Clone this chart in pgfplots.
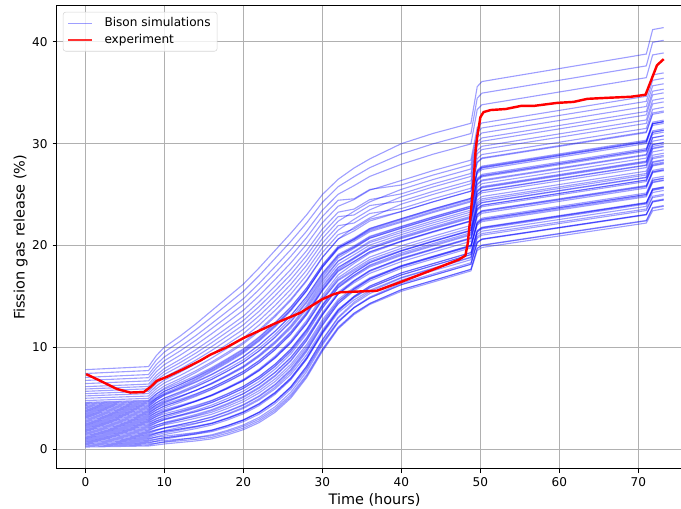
\documentclass[border=0pt]{standalone}
\usepackage{fontspec}
\setmainfont{DejaVu Sans}
\usepackage{pgfplots}
\usepackage{pgfplotstable}
\pgfplotsset{compat=1.18}
\definecolor{gridgray}{HTML}{B0B0B0}
\definecolor{legendgray}{HTML}{CCCCCC}
\tikzset{sim/.style={color=blue, opacity=0.38, line width=0.8pt}}

% rows: time (hours), then one column per Bison simulation run (61 runs)
\pgfplotstableread[header=false]{
0 0.20 0.29 0.38 0.47 0.56 0.66 0.75 0.84 0.93 1.02 1.11 1.20 1.29 1.39 1.48 1.57 1.66 1.75 1.84 1.93 2.02 2.12 2.21 2.30 2.39 2.48 2.57 2.66 2.75 2.84 2.94 3.03 3.12 3.21 3.30 3.39 3.48 3.57 3.67 3.76 3.85 3.94 4.03 4.12 4.21 4.30 4.40 4.49 4.58 4.76 4.99 5.22 5.44 5.67 5.90 6.13 6.43 6.74 7.04 7.42 7.80
8 0.30 0.39 0.49 0.58 0.67 0.77 0.86 0.96 1.05 1.14 1.24 1.33 1.42 1.52 1.61 1.70 1.80 1.89 1.98 2.08 2.17 2.27 2.36 2.45 2.55 2.64 2.73 2.83 2.92 3.01 3.11 3.20 3.30 3.39 3.48 3.58 3.67 3.76 3.86 3.95 4.04 4.14 4.23 4.32 4.42 4.51 4.61 4.70 4.79 4.98 5.21 5.45 5.68 5.92 6.15 6.38 6.70 7.01 7.32 7.71 8.10
9 0.40 0.56 0.58 0.79 0.76 0.95 0.99 1.20 1.17 1.38 1.54 1.54 1.61 1.81 1.88 1.90 2.16 2.17 2.33 2.36 2.57 2.61 2.77 2.76 2.95 3.00 3.23 3.19 3.37 3.43 3.63 3.59 3.82 3.86 4.06 4.05 4.20 4.36 4.34 4.55 4.58 4.81 4.83 4.98 4.99 5.07 5.23 5.42 5.42 5.68 5.94 6.21 6.47 6.74 7.00 7.26 7.62 7.97 8.32 8.76 9.20
10 0.50 0.71 0.67 0.98 0.84 1.11 1.10 1.42 1.27 1.59 1.80 1.71 1.75 2.06 2.10 2.05 2.46 2.38 2.61 2.57 2.90 2.87 3.11 2.98 3.28 3.27 3.62 3.46 3.71 3.75 4.04 3.87 4.23 4.22 4.52 4.39 4.60 4.82 4.69 5.01 4.98 5.33 5.27 5.48 5.40 5.67 5.68 5.98 5.87 6.20 6.49 6.77 7.06 7.34 7.63 7.91 8.29 8.67 9.05 9.53 10.00
12 0.65 0.93 0.81 1.24 0.97 1.34 1.28 1.71 1.44 1.87 2.14 1.97 1.97 2.40 2.41 2.29 2.87 2.69 3.00 2.88 3.34 3.25 3.56 3.32 3.72 3.67 4.15 3.86 4.19 4.20 4.59 4.30 4.78 4.73 5.12 4.89 5.16 5.44 5.21 5.63 5.55 6.03 5.89 6.16 5.99 6.35 6.33 6.72 6.52 6.92 7.23 7.55 7.86 8.17 8.49 8.80 9.22 9.64 10.06 10.58 11.10
14 0.80 1.14 0.96 1.49 1.11 1.57 1.47 2.01 1.62 2.16 2.50 2.24 2.22 2.75 2.73 2.55 3.29 3.03 3.40 3.22 3.80 3.66 4.04 3.69 4.19 4.09 4.71 4.29 4.70 4.68 5.18 4.76 5.38 5.27 5.77 5.43 5.77 6.11 5.76 6.30 6.16 6.78 6.56 6.89 6.63 7.09 7.03 7.53 7.22 7.70 8.05 8.39 8.74 9.08 9.43 9.77 10.23 10.69 11.15 11.73 12.30
16 1.00 1.40 1.15 1.80 1.30 1.86 1.71 2.36 1.86 2.51 2.91 2.56 2.51 3.17 3.12 2.87 3.77 3.42 3.87 3.62 4.32 4.13 4.58 4.13 4.73 4.58 5.33 4.78 5.28 5.23 5.84 5.29 6.04 5.89 6.49 6.04 6.44 6.84 6.40 7.05 6.85 7.60 7.30 7.70 7.35 7.90 7.81 8.41 8.01 8.56 8.94 9.32 9.69 10.07 10.45 10.83 11.33 11.84 12.34 12.97 13.60
18 1.40 1.84 1.56 2.27 1.72 2.32 2.15 2.86 2.31 3.02 3.46 3.07 3.01 3.73 3.67 3.39 4.38 3.99 4.48 4.20 4.97 4.75 5.24 4.74 5.40 5.23 6.05 5.44 5.99 5.93 6.59 5.98 6.80 6.64 7.29 6.80 7.23 7.67 7.17 7.88 7.66 8.48 8.15 8.59 8.20 8.80 8.69 9.34 8.90 9.50 9.91 10.31 10.72 11.12 11.53 11.93 12.47 13.01 13.55 14.23 14.90
20 1.90 2.37 2.06 2.83 2.23 2.88 2.69 3.46 2.85 3.62 4.10 3.67 3.60 4.37 4.30 3.99 5.07 4.64 5.17 4.86 5.69 5.44 5.98 5.43 6.14 5.95 6.84 6.17 6.76 6.70 7.41 6.74 7.63 7.44 8.15 7.61 8.08 8.55 8.00 8.77 8.52 9.42 9.05 9.52 9.09 9.74 9.61 10.33 9.84 10.48 10.91 11.34 11.77 12.20 12.63 13.05 13.63 14.20 14.77 15.49 16.20
22 2.60 3.11 2.77 3.60 2.94 3.64 3.43 4.27 3.60 4.44 4.94 4.48 4.40 5.23 5.15 4.82 5.97 5.51 6.08 5.74 6.64 6.37 6.94 6.34 7.11 6.90 7.86 7.13 7.77 7.69 8.46 7.73 8.70 8.49 9.26 8.66 9.17 9.67 9.08 9.91 9.64 10.60 10.20 10.70 10.24 10.94 10.80 11.56 11.03 11.72 12.18 12.63 13.09 13.54 14.00 14.46 15.06 15.67 16.28 17.04 17.80
24 3.60 4.14 3.77 4.66 3.94 4.69 4.46 5.36 4.64 5.53 6.07 5.56 5.47 6.36 6.27 5.90 7.14 6.63 7.24 6.88 7.84 7.54 8.15 7.50 8.32 8.09 9.12 8.33 9.01 8.92 9.74 8.95 9.99 9.76 10.58 9.93 10.47 11.01 10.36 11.25 10.95 11.98 11.54 12.08 11.58 12.33 12.17 12.99 12.41 13.14 13.62 14.09 14.57 15.05 15.53 16.00 16.64 17.27 17.91 18.71 19.50
26 5.00 5.57 5.16 6.11 5.33 6.12 5.87 6.81 6.03 6.97 7.54 6.99 6.88 7.83 7.72 7.32 8.64 8.08 8.72 8.32 9.34 9.01 9.65 8.95 9.82 9.56 10.65 9.80 10.52 10.41 11.28 10.43 11.52 11.27 12.13 11.43 12.00 12.57 11.86 12.81 12.48 13.57 13.09 13.66 13.10 13.90 13.72 14.59 13.96 14.72 15.21 15.69 16.18 16.66 17.15 17.64 18.28 18.93 19.58 20.39 21.20
28 7.00 7.59 7.14 8.14 7.29 8.12 7.83 8.82 7.98 8.97 9.56 8.95 8.82 9.82 9.69 9.24 10.63 10.02 10.70 10.25 11.32 10.95 11.62 10.86 11.77 11.48 12.63 11.70 12.46 12.33 13.24 12.31 13.46 13.18 14.09 13.32 13.91 14.50 13.74 14.73 14.36 15.51 14.98 15.58 14.97 15.80 15.59 16.50 15.82 16.60 17.08 17.56 18.04 18.52 19.00 19.48 20.12 20.76 21.40 22.20 23.00
30 9.60 10.21 9.71 10.75 9.83 10.69 10.37 11.40 10.48 11.52 12.13 11.46 11.31 12.34 12.19 11.69 13.15 12.49 13.18 12.69 13.81 13.40 14.09 13.26 14.21 13.88 15.08 14.08 14.86 14.70 15.65 14.65 15.85 15.53 16.48 15.64 16.25 16.86 16.03 17.06 16.65 17.86 17.28 17.89 17.22 18.09 17.85 18.80 18.05 18.84 19.30 19.76 20.23 20.69 21.15 21.61 22.23 22.84 23.46 24.23 25.00
32 11.80 12.43 11.88 12.96 11.97 12.86 12.50 13.57 12.58 13.66 14.28 13.56 13.38 14.45 14.27 13.73 15.25 14.53 15.25 14.70 15.87 15.41 16.13 15.23 16.21 15.85 17.11 16.02 16.83 16.65 17.63 16.55 17.80 17.44 18.43 17.52 18.15 18.78 17.87 18.95 18.50 19.75 19.12 19.75 19.02 19.92 19.64 20.63 19.82 20.62 21.06 21.50 21.94 22.38 22.83 23.27 23.85 24.44 25.03 25.77 26.50
34 13.20 13.91 13.31 14.42 13.35 14.27 13.86 14.97 13.90 15.01 15.65 14.86 14.64 15.75 15.53 14.93 16.52 15.73 16.46 15.86 17.07 16.56 17.30 16.32 17.33 16.92 18.23 17.06 17.88 17.66 18.68 17.51 18.81 18.40 19.42 18.44 19.08 19.71 18.74 19.85 19.34 20.64 19.95 20.59 19.80 20.72 20.41 21.42 20.54 21.77 21.62 22.56 22.20 23.35 22.99 23.57 24.50 24.58 25.87 26.74 27.60
36 14.20 14.93 14.29 15.45 14.31 15.27 14.83 15.99 14.85 16.01 16.67 15.83 15.59 16.75 16.51 15.87 17.53 16.69 17.45 16.82 18.08 17.54 18.30 17.26 18.32 17.88 19.24 18.00 18.86 18.62 19.68 18.44 19.80 19.36 20.42 19.38 20.04 20.70 19.66 20.82 20.28 21.64 20.90 21.56 20.72 21.68 21.34 22.40 21.46 22.71 22.57 23.50 23.14 24.28 23.92 24.50 25.43 25.50 26.78 27.64 28.50
40 15.50 16.30 15.65 16.80 15.65 16.60 16.15 17.30 16.15 17.30 17.95 17.10 16.86 18.01 17.76 17.11 18.76 17.91 18.66 18.01 19.26 18.71 19.46 18.41 19.46 19.02 20.37 19.12 19.97 19.72 20.77 19.52 20.87 20.42 21.47 20.42 21.07 21.72 20.68 21.83 21.28 22.63 21.88 22.53 21.68 22.63 22.28 23.33 22.38 24.06 23.33 24.78 23.62 25.51 24.35 25.07 26.38 25.94 27.97 28.99 30.00
44 16.40 17.20 16.55 17.70 16.55 17.51 17.06 18.21 17.06 18.21 18.86 18.02 17.77 18.92 18.67 18.02 19.68 18.83 19.58 18.93 20.18 19.63 20.39 19.34 20.39 19.94 21.29 20.05 20.90 20.65 21.70 20.45 21.81 21.36 22.41 21.36 22.01 22.66 21.62 22.77 22.22 23.57 22.82 23.48 22.63 23.58 23.23 24.28 23.33 25.01 24.28 25.74 24.58 26.47 25.31 26.04 27.35 26.91 28.96 29.98 31.00
48.8 17.50 18.30 17.65 18.80 17.65 18.60 18.15 19.30 18.15 19.30 19.95 19.10 18.86 20.01 19.76 19.11 20.76 19.91 20.66 20.01 21.26 20.71 21.46 20.41 21.46 21.02 22.37 21.12 21.97 21.72 22.77 21.52 22.87 22.42 23.47 22.42 23.07 23.72 22.68 23.83 23.28 24.63 23.88 24.53 23.68 24.63 24.28 25.33 24.38 26.06 25.33 26.78 25.62 27.51 26.35 27.07 28.38 27.94 29.97 30.99 32.00
49.6 19.50 20.33 19.70 20.86 19.73 20.70 20.27 21.43 20.30 21.47 22.14 21.30 21.07 22.24 22.01 21.37 23.04 22.21 22.98 22.34 23.61 23.08 23.85 22.81 23.88 23.45 24.81 23.58 24.45 24.22 25.28 24.05 25.42 24.99 26.05 25.02 25.69 26.36 25.32 26.49 25.96 27.33 26.59 27.26 26.43 27.40 27.06 28.13 27.20 29.00 28.19 29.80 28.52 30.61 29.32 30.13 31.58 31.09 33.35 34.47 35.60
50.2 19.80 20.63 20.00 21.17 20.04 21.01 20.58 21.75 20.62 21.79 22.46 21.63 21.40 22.57 22.34 21.71 23.38 22.55 23.31 22.68 23.95 23.42 24.19 23.16 24.23 23.80 25.17 23.94 24.81 24.58 25.65 24.42 25.79 25.36 26.43 25.40 26.07 26.74 25.71 26.87 26.34 27.71 26.98 27.65 26.82 27.79 27.46 28.53 27.60 29.42 28.60 30.23 28.93 31.05 29.74 30.56 32.03 31.54 33.82 34.96 36.10
71.0 22.20 23.04 22.41 23.58 22.46 23.43 23.00 24.17 23.05 24.22 24.89 24.07 23.84 25.01 24.78 24.16 25.83 25.00 25.77 25.15 26.42 25.89 26.66 25.64 26.71 26.28 27.65 26.43 27.30 27.07 28.15 26.92 28.29 27.86 28.94 27.91 28.58 29.25 28.23 29.40 28.87 30.24 29.52 30.19 29.36 30.34 30.01 31.08 30.15 31.99 31.16 32.82 31.50 33.65 32.33 33.16 34.65 34.15 36.48 37.64 38.80
71.8 23.40 24.26 23.65 24.83 23.72 24.70 24.29 25.47 24.36 25.54 26.23 25.41 25.20 26.38 26.17 25.55 27.24 26.42 27.21 26.60 27.88 27.37 28.15 27.14 28.22 27.81 29.19 27.98 28.86 28.65 29.73 28.52 29.90 29.49 30.57 29.56 30.24 30.93 29.91 31.10 30.58 31.97 31.25 31.94 31.12 32.11 31.79 32.88 31.96 33.90 33.01 34.79 33.37 35.68 34.26 35.15 36.75 36.22 38.71 39.95 41.20
73.2 23.60 24.46 23.85 25.03 23.92 24.90 24.49 25.67 24.56 25.74 26.43 25.61 25.40 26.58 26.37 25.75 27.44 26.62 27.41 26.80 28.08 27.57 28.35 27.34 28.42 28.01 29.39 28.18 29.06 28.85 29.93 28.72 30.10 29.69 30.77 29.76 30.44 31.13 30.11 31.30 30.78 32.17 31.45 32.14 31.32 32.31 31.99 33.08 32.16 34.10 33.21 34.99 33.57 35.88 34.46 35.35 36.95 36.42 38.91 40.15 41.40
}\sims

\begin{document}
\begin{tikzpicture}
\begin{axis}[
  scale only axis,
  width=457.7pt, height=333.5pt,
  xmin=-3.63, xmax=76.83, ymin=-1.95, ymax=43.55,
  xtick={0,10,...,70}, ytick={0,10,...,40},
  tick pos=left, tick align=outside,
  major tick length=3pt,
  tick style={line width=0.7pt, black},
  axis line style={line width=0.7pt, black},
  grid=major, grid style={color=gridgray, line width=0.7pt},
  ticklabel style={font=\fontsize{8.7}{10.4}\selectfont},
  /pgf/number format/assume math mode=true,
  xlabel={Time (hours)}, ylabel={Fission gas release (\%)},
  label style={font=\fontsize{10.4}{12.5}\selectfont},
  xlabel style={at={(axis description cs:0.5,0)}, anchor=north, yshift=-17.6pt, inner sep=0pt},
  ylabel style={at={(axis description cs:-0.0452,0.5)}, anchor=south, inner sep=0pt},
  legend cell align=left,
  legend image code/.code={\draw[#1] (0pt,0pt) -- (17.5pt,0pt);},
  legend style={at={(rel axis cs:0,1)}, anchor=north west, xshift=4.4pt, yshift=-4.4pt,
    draw=legendgray, fill=white, fill opacity=0.8, draw opacity=0.8, text opacity=1,
    rounded corners=2pt, font=\fontsize{8.7}{10.4}\selectfont,
    inner xsep=2.8pt, inner ysep=2.2pt, nodes={inner sep=1.9pt},
    /tikz/column sep=5.9pt, row sep=0pt},
]
\coordinate (bl) at (rel axis cs:0,0);
\coordinate (tl) at (rel axis cs:0,1);
\addplot[sim] table[x index=0, y index=1]{\sims};
\addlegendentry{Bison simulations}
\pgfplotsinvokeforeach{2,...,61}{
  \addplot[sim, forget plot] table[x index=0, y index=#1]{\sims};
}
\addplot[red, line width=1.75pt, line join=round] coordinates {
(0.1,7.36) (1.9,6.7) (4.0,5.9) (5.7,5.55) (7.4,5.6) (8.25,6.1) (9.05,6.7)
(10.35,7.1) (12.4,7.85) (14.5,8.67) (15.8,9.26) (17.9,10.0) (20.0,10.9)
(23.9,12.3) (27.25,13.4) (29.95,14.7) (31.4,15.2) (32.3,15.4) (36.9,15.55)
(39.9,16.4) (43.25,17.4) (47.25,18.6) (48.1,19.0) (48.4,20.2) (48.7,22.5)
(49.1,25.8) (49.4,29.4) (49.6,30.7) (50.0,32.6) (50.4,33.1) (51.3,33.3)
(53.2,33.4) (55.1,33.7) (56.7,33.7) (59.7,34.0) (61.8,34.1) (63.55,34.4)
(66.05,34.5) (69.0,34.6) (70.9,34.8) (72.35,37.7) (73.2,38.3)
};
\addlegendentry{experiment}
\end{axis}
\pgfresetboundingbox
\path ([xshift=-40.8pt,yshift=-28.6pt]bl) rectangle ([xshift=449.5pt,yshift=4.1pt]tl);
\end{tikzpicture}
\end{document}
